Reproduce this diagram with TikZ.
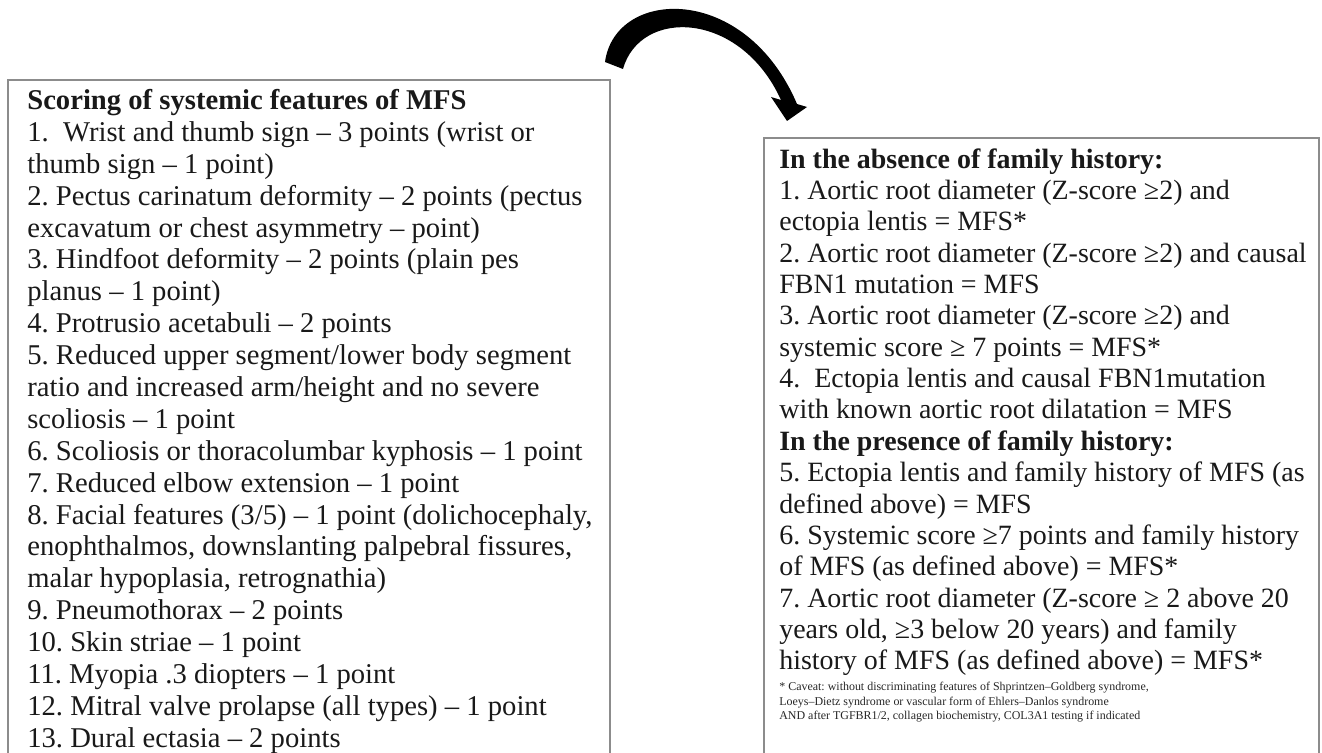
\documentclass[tikz,border=0pt]{standalone}
\usepackage{fontspec}
\setmainfont{Liberation Serif}
\usetikzlibrary{positioning}
\frenchspacing
\tikzset{
  boxline/.style={line width=1.1pt, draw=black!45},
  itemtext/.style={anchor=north west, inner sep=0pt, align=left, text=black!90},
  caveattext/.style={anchor=north west, inner sep=0pt, align=left, text=black!85,
    font=\fontsize{6.8}{8.2}\selectfont}
}

\begin{document}
\begin{tikzpicture}[x=0.02cm, y=-0.02cm]
	%%%%% START %%%%%
	\useasboundingbox (0, 0) rectangle (1322, 753);
	\clip (0, 0) rectangle (1322, 753);
	
	% the two boxes, both running past the lower edge
	\draw[boxline] (8, 80) rectangle (610, 770);
	\draw[boxline] (764, 138) rectangle (1319, 770);
	
	% scoring list
	\node[itemtext, font=\fontsize{16.3}{18.15}\selectfont] (scoring) at (27, 89) {\textbf{Scoring of systemic features of MFS}\\
		1.\ \ Wrist and thumb sign – 3 points (wrist or\\
		thumb sign – 1 point)\\
		2. Pectus carinatum deformity – 2 points (pectus\\
		excavatum or chest asymmetry – point)\\
		3. Hindfoot deformity – 2 points (plain pes\\
		planus – 1 point)\\
		4. Protrusio acetabuli – 2 points\\
		5. Reduced upper segment/lower body segment\\
		ratio and increased arm/height and no severe\\
		scoliosis – 1 point\\
		6. Scoliosis or thoracolumbar kyphosis – 1 point\\
		7. Reduced elbow extension – 1 point\\
		8. Facial features (3/5) – 1 point (dolichocephaly,\\
		enophthalmos, downslanting palpebral fissures,\\
		malar hypoplasia, retrognathia)\\
		9. Pneumothorax – 2 points\\
		10. Skin striae – 1 point\\
		11. Myopia .3 diopters – 1 point\\
		12. Mitral valve prolapse (all types) – 1 point\\
		13. Dural ectasia – 2 points};
	
	% diagnostic criteria
	\node[itemtext, font=\fontsize{15.9}{17.85}\selectfont] (criteria) at (779, 148) {\textbf{In the absence of family history:}\\
		1. Aortic root diameter (Z-score ≥2) and\\
		ectopia lentis = MFS*\\
		2. Aortic root diameter (Z-score ≥2) and causal\\
		FBN1 mutation = MFS\\
		3. Aortic root diameter (Z-score ≥2) and\\
		systemic score ≥ 7 points = MFS*\\
		4.\ \ Ectopia lentis and causal FBN1mutation\\
		with known aortic root dilatation = MFS\\
		\textbf{In the presence of family history:}\\
		5. Ectopia lentis and family history of MFS (as\\
		defined above) = MFS\\
		6. Systemic score ≥7 points and family history\\
		of MFS (as defined above) = MFS*\\
		7. Aortic root diameter (Z-score ≥ 2 above 20\\
		years old, ≥3 below 20 years) and family\\
		history of MFS (as defined above) = MFS*};
	
	\node[caveattext] (caveat) at (779, 682) {* Caveat: without discriminating features of Shprintzen–Goldberg syndrome,\\
		Loeys–Dietz syndrome or vascular form of Ehlers–Danlos syndrome\\
		AND after TGFBR1/2, collagen biochemistry, COL3A1 testing if indicated};
	
	% curved arrow from the scoring box over to the criteria box
	\coordinate (arrowstart) at (605, 62);
	\coordinate (arrowtip) at (787, 121);
	\fill[black] (arrowstart) .. controls (615, -12) and (745, -18) .. (797, 104)
		-- (807, 107) -- (arrowtip) -- (771, 97) -- (781, 100)
		.. controls (740, 10) and (640, 8) .. (623, 69) -- cycle;
	
	%%%%% END %%%%%
\end{tikzpicture}
\end{document}
